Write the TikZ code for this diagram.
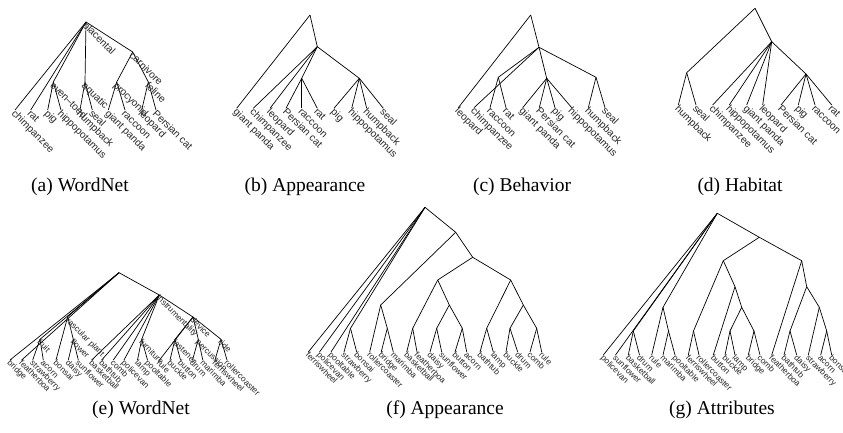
\documentclass[tikz,border=0pt]{standalone}
\usepackage{fontspec}
\setmainfont{Liberation Serif}
\setsansfont{Liberation Sans}
\begin{document}
\begin{tikzpicture}[x=1pt,y=-1pt,line width=0.7pt,
  lfA/.style={font=\fontsize{10.2}{12}\selectfont\sffamily, anchor=base west, inner sep=0pt, xshift=-4pt, yshift=-4pt, rotate=-45, text=black!85},
  lfB/.style={font=\fontsize{8.4}{10}\selectfont\sffamily, anchor=base west, inner sep=0pt, xshift=-3.3pt, yshift=-3.3pt, rotate=-45, text=black!85},
  captxt/.style={font=\fontsize{19.5}{22}\selectfont\rmfamily, anchor=center, inner sep=0pt}]
\useasboundingbox (0,0) rectangle (843,433);
% ---------------- (a) WordNet
\coordinate (aR) at (86,22);
\coordinate (aC) at (132.7,52);
\coordinate (aP) at (116.7,82);
\coordinate (aF) at (148.3,82);
\coordinate (aE) at (53.3,82);
\coordinate (aA) at (85,82);
\foreach \i/\x/\t in {1/15/chimpanzee,2/30.7/rat,3/47.7/pig,4/61/hippopotamus,5/80/humpback,6/92.3/seal,7/108.3/giant panda,8/125/raccoon,9/141.7/leopard,10/156/Persian cat}
  {\coordinate (a\i) at (\x,110); \node[lfA] (at\i) at (a\i) {\t};}
\foreach \p/\c in {aR/a1,aR/a2,aR/aE,aR/aA,aR/aC,aE/a3,aE/a4,aA/a5,aA/a6,aC/aP,aC/aF,aP/a7,aP/a8,aF/a9,aF/a10}
  \draw (\p) -- (\c);
\node[lfA] (atR) at (aR) {placental};
\node[lfA] (atE) at (aE) {even–toed};
\node[lfA] (atA) at (aA) {aquatic};
\node[lfA] (atC) at (aC) {carnivore};
\node[lfA] (atP) at (aP) {procyonid};
\node[lfA] (atF) at (aF) {feline};
\node[captxt] (capa) at (80,187) {(a) WordNet};
% ---------------- (b) Appearance
\coordinate (bR) at (310,15);
\coordinate (bN1) at (317.3,46.7);
\coordinate (bN2) at (301.7,78.3);
\coordinate (bN3) at (359.3,78.3);
\foreach \i/\x/\t in {1/236.7/giant panda,2/253.3/chimpanzee,3/270/leopard,4/286/Persian cat,5/301.7/raccoon,6/317.3/rat,7/334/pig,8/351.7/hippopotamus,9/366.7/humpback,10/383.3/seal}
  {\coordinate (b\i) at (\x,108.3); \node[lfA] (bt\i) at (b\i) {\t};}
\foreach \p/\c in {bR/b1,bR/bN1,bN1/b2,bN1/b3,bN1/bN2,bN1/bN3,bN2/b4,bN2/b5,bN2/b6,bN3/b7,bN3/b8,bN3/b9,bN3/b10}
  \draw (\p) -- (\c);
\node[captxt] (capb) at (305,187) {(b) Appearance};
% ---------------- (c) Behavior
\coordinate (cR) at (530.7,15);
\coordinate (cN1) at (539,47.3);
\coordinate (cN2) at (498.3,77.3);
\coordinate (cN3) at (546.7,78.3);
\coordinate (cN4) at (596,77.3);
\foreach \i/\x/\t in {1/458.3/leopard,2/474/chimpanzee,3/490/raccoon,4/506/rat,5/522.7/giant panda,6/539.3/Persian cat,7/555/pig,8/571.7/hippopotamus,9/588.3/humpback,10/605/seal}
  {\coordinate (c\i) at (\x,107.7); \node[lfA] (ct\i) at (c\i) {\t};}
\foreach \p/\c in {cR/c1,cR/cN1,cN1/c2,cN1/cN2,cN1/cN3,cN1/cN4,cN2/c3,cN2/c4,cN3/c5,cN3/c6,cN3/c7,cN3/c8,cN4/c9,cN4/c10}
  \draw (\p) -- (\c);
\node[captxt] (capc) at (522,187) {(c) Behavior};
% ---------------- (d) Habitat
\coordinate (dR) at (755,8.3);
\coordinate (dN1) at (771.7,41.7);
\coordinate (dN2) at (686.7,72.7);
\coordinate (dN3) at (806,74);
\foreach \i/\x/\t in {1/678.3/humpback,2/696/seal,3/712.7/chimpanzee,4/729.3/hippopotamus,5/746.7/giant panda,6/762.7/leopard,7/781/Persian cat,8/798.3/pig,9/815/raccoon,10/831.7/rat}
  {\coordinate (d\i) at (\x,105); \node[lfA] (dt\i) at (d\i) {\t};}
\foreach \p/\c in {dR/dN2,dR/dN1,dN2/d1,dN2/d2,dN1/d3,dN1/d4,dN1/d5,dN1/d6,dN1/dN3,dN3/d7,dN3/d8,dN3/d9,dN3/d10}
  \draw (\p) -- (\c);
\node[captxt] (capd) at (740,187) {(d) Habitat};
% ---------------- (e) WordNet
\coordinate (eR) at (119,272.7);
\coordinate (eI) at (159.3,295);
\coordinate (eD) at (193,317);
\coordinate (eV) at (67.7,316.7);
\coordinate (eFr) at (40,339.3);
\coordinate (eFl) at (73.3,339.3);
\coordinate (eFu) at (141.7,339.3);
\coordinate (eFa) at (175,339.3);
\coordinate (ePe) at (198.3,339.3);
\coordinate (eRi) at (221,339.3);
\foreach \i/\x/\t in {1/10/bridge,2/21.7/featherboa,3/32.7/strawberry,4/43.3/acorn,5/56/bonsai,6/68.3/daisy,7/78.3/sunflower,8/91.7/basketball,9/101.7/bathtub,10/113.3/comb,11/124/policevan,12/137.5/lamp,13/147.5/pooltable,14/159.5/rule,15/170/buckle,16/180.5/button,17/192.5/drum,18/202.8/marimba,19/215/ferriswheel,20/227/rollercoaster}
  {\coordinate (e\i) at (\x,360); \node[lfB] (et\i) at (e\i) {\t};}
\foreach \p/\c in {eR/e1,eR/e2,eR/eFr,eR/eV,eR/eI,eFr/e3,eFr/e4,eV/e5,eV/eFl,eFl/e6,eFl/e7,eI/e8,eI/e9,eI/e10,eI/e11,eI/eFu,eI/eD,eFu/e12,eFu/e13,eD/e14,eD/eFa,eD/ePe,eD/eRi,eFa/e15,eFa/e16,ePe/e17,ePe/e18,eRi/e19,eRi/e20}
  \draw (\p) -- (\c);
\node[lfB] (etI) at (eI) {instrumentality};
\node[lfB] (etD) at (eD) {device};
\node[lfB] (etV) at (eV) {vascular plant};
\node[lfB] (etFr) at (eFr) {fruit};
\node[lfB] (etFl) at (eFl) {flower};
\node[lfB] (etFu) at (eFu) {furniture};
\node[lfB] (etFa) at (eFa) {fastener};
\node[lfB] (etPe) at (ePe) {percussion};
\node[lfB] (etRi) at (eRi) {ride};
\node[captxt] (cape) at (141,410) {(e) WordNet};
% ---------------- (f) Appearance
\coordinate (fR) at (425,207.3);
\coordinate (fA) at (455.7,232.3);
\coordinate (fB) at (472.7,257.3);
\coordinate (fC) at (380.7,305);
\coordinate (fD) at (437.7,280);
\coordinate (fE) at (510.7,280);
\coordinate (fsb) at (350.5,328.3);
\coordinate (fbm) at (387.3,328.3);
\coordinate (fbf) at (412.7,328.3);
\coordinate (fD2) at (449.3,305);
\coordinate (fds) at (436.7,328.3);
\coordinate (fba) at (462.3,328.3);
\coordinate (fbl) at (486.7,328.3);
\coordinate (fE2) at (523.3,305);
\coordinate (fbd) at (510,328.3);
\coordinate (fcr) at (536.7,328.3);
\foreach \i/\x/\t in {1/308.3/ferriswheel,2/319.5/policevan,3/331/pooltable,4/344/strawberry,5/356.7/bonsai,6/369.7/rollercoaster,7/381.2/bridge,8/393.3/marimba,9/406.7/basketball,10/417/featherboa,11/430/daisy,12/441.7/sunflower,13/455/button,14/466.7/acorn,15/480/bathtub,16/493.3/lamp,17/506/buckle,18/517.7/drum,19/530/comb,20/541.7/rule}
  {\coordinate (f\i) at (\x,352); \node[lfB] (ft\i) at (f\i) {\t};}
\foreach \p/\c in {fR/f1,fR/f2,fR/f3,fR/fsb,fR/fA,fsb/f4,fsb/f5,fA/fC,fA/fB,fC/f6,fC/fbm,fbm/f7,fbm/f8,fB/fD,fB/fE,fD/fbf,fD/fD2,fbf/f9,fbf/f10,fD2/fds,fD2/fba,fds/f11,fds/f12,fba/f13,fba/f14,fE/fbl,fE/fE2,fbl/f15,fbl/f16,fE2/fbd,fE2/fcr,fbd/f17,fbd/f18,fcr/f19,fcr/f20}
  \draw (\p) -- (\c);
\node[captxt] (capf) at (445,410) {(f) Appearance};
% ---------------- (g) Attributes
\coordinate (gR) at (717.3,213.3);
\coordinate (gA) at (759.3,237.3);
\coordinate (gB) at (723.3,260.7);
\coordinate (gC) at (801.7,260.7);
\coordinate (gbd) at (633.3,331);
\coordinate (gr) at (663,307.3);
\coordinate (gmp) at (668.5,331);
\coordinate (gfr) at (693.5,331);
\coordinate (gB2) at (735,286.7);
\coordinate (gB3) at (741.7,307.3);
\coordinate (gbl) at (730,331);
\coordinate (gbc) at (754,331);
\coordinate (gC2) at (806.7,286.7);
\coordinate (gbd2) at (790,331);
\coordinate (gC3) at (819.3,307.3);
\coordinate (gab) at (826.7,331);
\foreach \i/\x/\t in {1/603.3/policevan,2/615.5/sunflower,3/628.3/basketball,4/639.5/drum,5/651.7/rule,6/663/marimba,7/675/pooltable,8/688.3/ferriswheel,9/699/rollercoaster,10/713.3/button,11/725/buckle,12/735/lamp,13/748.3/bridge,14/760/comb,15/771.7/featherboa,16/784/bathtub,17/796.7/daisy,18/808.3/strawberry,19/820.7/acorn,20/831.7/bonsai}
  {\coordinate (g\i) at (\x,355); \node[lfB] (gt\i) at (g\i) {\t};}
\foreach \p/\c in {gR/g1,gR/g2,gR/gbd,gR/gr,gR/gA,gbd/g3,gbd/g4,gr/g5,gr/gmp,gmp/g6,gmp/g7,gA/gB,gA/gC,gB/gfr,gB/gB2,gfr/g8,gfr/g9,gB2/g10,gB2/gB3,gB3/gbl,gB3/gbc,gbl/g11,gbl/g12,gbc/g13,gbc/g14,gC/g15,gC/gC2,gC2/gbd2,gC2/gC3,gbd2/g16,gbd2/g17,gC3/g18,gC3/gab,gab/g19,gab/g20}
  \draw (\p) -- (\c);
\node[captxt] (capg) at (722,410) {(g) Attributes};
\end{tikzpicture}
\end{document}
